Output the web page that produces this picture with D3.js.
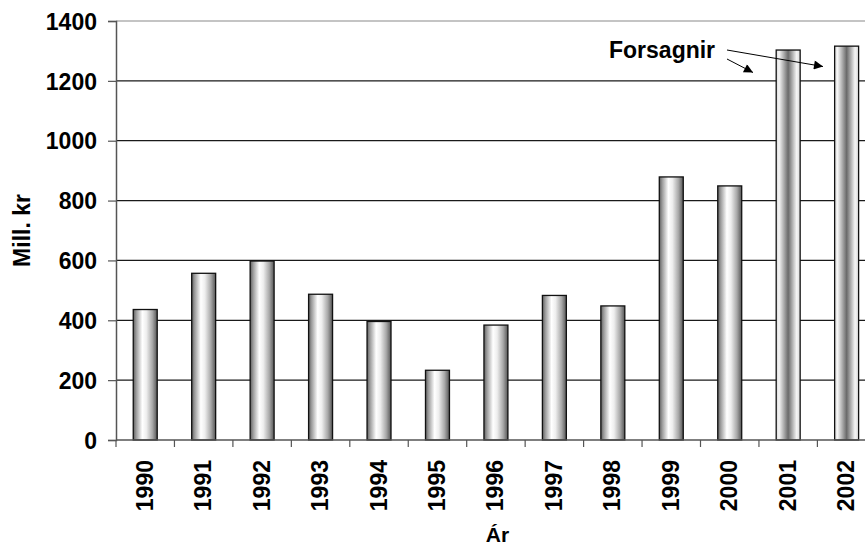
<!DOCTYPE html>
<html><head><meta charset="utf-8">
<script src="https://cdn.jsdelivr.net/npm/d3@7"></script>
<style>body{margin:0;background:#fff}svg{display:block}text{font-family:"Liberation Sans",Arial,sans-serif;font-weight:bold}</style>
</head><body><svg id="c" width="865" height="544"></svg>
<script>
const years = ["1990","1991","1992","1993","1994","1995","1996","1997","1998","1999","2000","2001","2002"];
const values = [436, 557, 598, 487, 396, 233, 384, 483, 448, 879, 849, 1303, 1316];
const forecast = [false,false,false,false,false,false,false,false,false,false,false,true,true];
const yTicks = [0,200,400,600,800,1000,1200,1400];
const yTitle = "Mill. kr";
const xTitle = "Ár";
const noteText = "Forsagnir";

const svg = d3.select("#c");
const mLeft = 116, mTop = 21, mBottom = 440, step = 58.45;
const x = d3.scaleBand().domain(years).range([mLeft, mLeft + step*years.length]).paddingInner(0.59).paddingOuter(0.295);
const y = d3.scaleLinear().domain([0,1400]).range([mBottom, mTop]);

const defs = svg.append("defs");
const g1 = defs.append("linearGradient").attr("id","gN");
[[0,"#5e5e5e"],[0.12,"#9a9a9a"],[0.38,"#ffffff"],[0.55,"#eeeeee"],[0.8,"#a8a8a8"],[1,"#555"]].forEach(s=>g1.append("stop").attr("offset",s[0]).attr("stop-color",s[1]));
const g2 = defs.append("linearGradient").attr("id","gF");
[[0,"#d8d8d8"],[0.12,"#f6f6f6"],[0.5,"#6a6a6a"],[0.85,"#f4f4f4"],[1,"#dcdcdc"]].forEach(s=>g2.append("stop").attr("offset",s[0]).attr("stop-color",s[1]));

// gridlines
svg.append("g").selectAll("line").data(yTicks.filter(d=>d>0)).join("line")
  .attr("x1",mLeft).attr("x2",865).attr("y1",d=>y(d)).attr("y2",d=>y(d))
  .attr("stroke",d=>d===1400?"#8a8a8a":"#1a1a1a").attr("stroke-width",1.2);

// y axis
const ya = svg.append("g").attr("transform",`translate(${mLeft},0)`)
  .call(d3.axisLeft(y).tickValues(yTicks).tickSize(8).tickPadding(11).tickFormat(d3.format("d")));
ya.select(".domain").attr("stroke","#555").attr("stroke-width",1.5);
ya.selectAll(".tick line").attr("stroke","#555").attr("stroke-width",1.2);
ya.selectAll(".tick text").attr("font-size",23).attr("fill","#000").attr("dy","0.36em");

// bars
svg.append("g").selectAll("rect").data(years).join("rect")
  .attr("x",d=>x(d)).attr("width",x.bandwidth())
  .attr("y",(d,i)=>y(values[i])).attr("height",(d,i)=>mBottom-y(values[i]))
  .attr("fill",(d,i)=>forecast[i]?"url(#gF)":"url(#gN)")
  .attr("stroke","#111").attr("stroke-width",1.3);

// x axis
svg.append("line").attr("x1",mLeft).attr("x2",865).attr("y1",mBottom).attr("y2",mBottom).attr("stroke","#555").attr("stroke-width",1.5);
svg.append("g").selectAll("line").data(d3.range(years.length+1)).join("line")
  .attr("x1",i=>x.range()[0]+i*x.step()).attr("x2",i=>x.range()[0]+i*x.step())
  .attr("y1",mBottom).attr("y2",mBottom+7).attr("stroke","#555").attr("stroke-width",1.2);
svg.append("g").selectAll("text").data(years).join("text")
  .attr("transform",d=>`translate(${x(d)+x.bandwidth()/2+7.5},460) rotate(-90)`)
  .attr("text-anchor","end").attr("font-size",23).text(d=>d);

// titles
svg.append("text").attr("transform",`translate(30,${(mTop+mBottom)/2}) rotate(-90)`).attr("text-anchor","middle").attr("font-size",23).text(yTitle);
svg.append("text").attr("x",497.5).attr("y",541.5).attr("text-anchor","middle").attr("font-size",21).text(xTitle);

// annotation
svg.append("text").attr("x",609).attr("y",57.5).attr("font-size",23).text(noteText);
defs.append("marker").attr("id","ah").attr("viewBox","0 0 10 10").attr("refX",10).attr("refY",5)
  .attr("markerWidth",11).attr("markerHeight",9).attr("markerUnits","userSpaceOnUse").attr("orient","auto")
  .append("path").attr("d","M0,0L10,5L0,10Z").attr("fill","#000");
svg.append("line").attr("x1",727).attr("y1",59).attr("x2",753).attr("y2",72.5).attr("stroke","#000").attr("stroke-width",1).attr("marker-end","url(#ah)");
svg.append("line").attr("x1",727).attr("y1",50).attr("x2",823).attr("y2",66.5).attr("stroke","#000").attr("stroke-width",1).attr("marker-end","url(#ah)");
</script></body></html>
